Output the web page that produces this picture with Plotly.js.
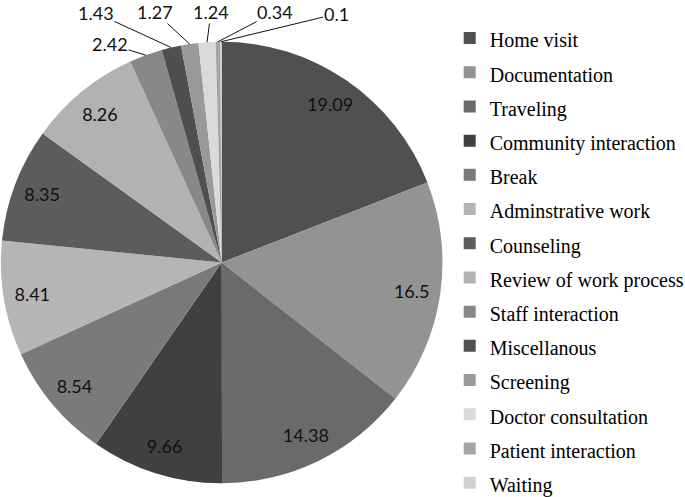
<!DOCTYPE html>
<html>
<head>
<meta charset="utf-8">
<script src="https://cdn.plot.ly/plotly-3.0.1.min.js"></script>
<style>html,body{margin:0;padding:0;background:#fff;}#chart{width:685px;height:497px;}</style>
</head>
<body>
<div id="chart"></div>
<script>
// ---- data ----
const labels = ["Home visit","Documentation","Traveling","Community interaction","Break","Adminstrative work","Counseling","Review of work process","Staff interaction","Miscellanous","Screening","Doctor consultation","Patient interaction","Waiting"];
const values = [19.09,16.5,14.38,9.66,8.54,8.41,8.35,8.26,2.42,1.43,1.27,1.24,0.34,0.1];

// ---- styles / layout ----
const colors = ["#505050","#939393","#6a6a6a","#404040","#7a7a7a","#b5b5b5","#5c5c5c","#b2b2b2","#888888","#4f4f4f","#999999","#dadada","#a5a5a5","#d0d0d0"];
const W = 685, H = 497;
const dom = {x: [0.001, 0.6463], y: [0.0276, 0.916]};
// text centres (px) for the callout labels of the thin slices
const calloutPos = [[110,44],[96,13],[155,12],[211,12],[275,12],[336,14]];
const labelFont = {family: "Lato, sans-serif", size: 18, color: "#111"};

const isSmall = values.map(v => v < 5);

const basePie = {
  type: "pie",
  labels: labels.map(l => '<span style="font-size:20px">' + l + '</span>'),
  values: values,
  sort: false,
  direction: "clockwise",
  rotation: 0,
  marker: {colors: colors, line: {width: 0}},
  textinfo: "none",
  domain: dom,
  hoverinfo: "label+value"
};

// transparent ring carrying the inside value labels (places them near the rim)
const labelRing = {
  type: "pie",
  labels: labels,
  values: values,
  sort: false,
  direction: "clockwise",
  rotation: 0,
  hole: 0.74,
  marker: {colors: values.map(() => "rgba(0,0,0,0)"), line: {width: 0}},
  texttemplate: "%{value}",
  textposition: isSmall.map(s => s ? "none" : "inside"),
  insidetextorientation: "horizontal",
  textfont: labelFont,
  domain: dom,
  showlegend: false,
  hoverinfo: "skip"
};

// callouts for thin slices: arrow tip at the slice's mid-angle on the rim
const cx = (dom.x[0] + dom.x[1]) / 2 * W;
const cy = (1 - (dom.y[0] + dom.y[1]) / 2) * H;
const R = Math.min((dom.x[1] - dom.x[0]) * W, (dom.y[1] - dom.y[0]) * H) / 2;
const total = values.reduce((a, b) => a + b, 0);
const annotations = [];
let cum = 0, k = 0;
values.forEach((v, i) => {
  const mid = (cum + v / 2) / total * 2 * Math.PI;
  cum += v;
  if (!isSmall[i]) return;
  const px = cx + R * Math.sin(mid);
  const py = cy - R * Math.cos(mid);
  const [lx, ly] = calloutPos[k++];
  annotations.push({
    xref: "paper", yref: "paper",
    x: px / W, y: 1 - py / H,
    ax: lx - px, ay: ly - py,
    text: String(v),
    showarrow: true, arrowhead: 0, arrowwidth: 1, arrowcolor: "#111", standoff: 0,
    borderpad: 0,
    font: labelFont
  });
});

const layout = {
  width: W, height: H,
  margin: {l: 0, r: 0, t: 0, b: 0, autoexpand: false},
  paper_bgcolor: "#fff",
  showlegend: true,
  annotations: annotations,
  legend: {
    x: 0.6565, y: 0.476, xanchor: "left", yanchor: "middle",
    font: {family: "Liberation Serif, Times New Roman, serif", size: 24, color: "#000"},
    itemwidth: 30
  }
};

Plotly.newPlot("chart", [basePie, labelRing], layout, {displayModeBar: false, staticPlot: true});
</script>
</body>
</html>
